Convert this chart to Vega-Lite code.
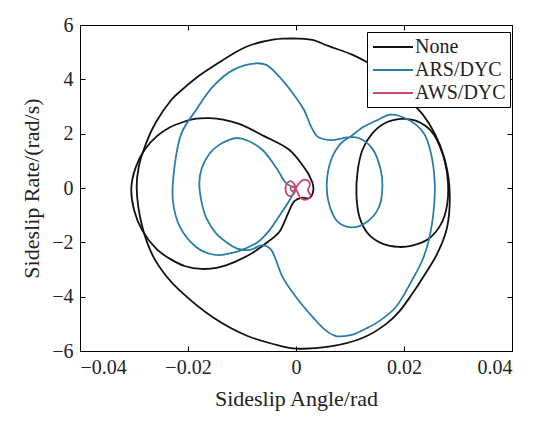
{
  "$schema": "https://vega.github.io/schema/vega-lite/v6.json",
  "autosize": {"type": "none"},
  "width": 432,
  "height": 326,
  "padding": {"left": 80, "top": 25, "right": 38, "bottom": 81},
  "background": "white",
  "config": {
    "view": {"stroke": "black", "strokeWidth": 1},
    "axis": {"grid": false, "domainColor": "black", "tickColor": "black", "labelColor": "#222", "titleColor": "#222", "labelFont": "Liberation Serif", "titleFont": "Liberation Serif", "labelFontSize": 20, "titleFontSize": 22, "titleFontWeight": "normal", "tickSize": -5, "domainWidth": 1, "tickWidth": 1},
    "legend": {"labelFont": "Liberation Serif", "labelFontSize": 20, "labelColor": "#222"}
  },
  "data": {"values": [
    {"s":"None","seg":1,"i":0,"x":0.0031,"y":0.17},
    {"s":"None","seg":1,"i":1,"x":0.0022,"y":0.55},
    {"s":"None","seg":1,"i":2,"x":0.0012,"y":0.84},
    {"s":"None","seg":1,"i":3,"x":-0.0012,"y":1.40},
    {"s":"None","seg":1,"i":4,"x":-0.0060,"y":1.92},
    {"s":"None","seg":1,"i":5,"x":-0.0105,"y":2.36},
    {"s":"None","seg":1,"i":6,"x":-0.0135,"y":2.52},
    {"s":"None","seg":1,"i":7,"x":-0.0160,"y":2.57},
    {"s":"None","seg":1,"i":8,"x":-0.0185,"y":2.55},
    {"s":"None","seg":1,"i":9,"x":-0.0210,"y":2.42},
    {"s":"None","seg":1,"i":10,"x":-0.0235,"y":2.22},
    {"s":"None","seg":1,"i":11,"x":-0.0257,"y":1.92},
    {"s":"None","seg":1,"i":12,"x":-0.0280,"y":1.42},
    {"s":"None","seg":1,"i":13,"x":-0.0297,"y":0.75},
    {"s":"None","seg":1,"i":14,"x":-0.0305,"y":0.0},
    {"s":"None","seg":1,"i":15,"x":-0.0300,"y":-0.80},
    {"s":"None","seg":1,"i":16,"x":-0.0285,"y":-1.55},
    {"s":"None","seg":1,"i":17,"x":-0.0258,"y":-2.25},
    {"s":"None","seg":1,"i":18,"x":-0.0234,"y":-2.60},
    {"s":"None","seg":1,"i":19,"x":-0.0205,"y":-2.88},
    {"s":"None","seg":1,"i":20,"x":-0.0175,"y":-2.98},
    {"s":"None","seg":1,"i":21,"x":-0.0145,"y":-2.93},
    {"s":"None","seg":1,"i":22,"x":-0.0111,"y":-2.70},
    {"s":"None","seg":1,"i":23,"x":-0.0080,"y":-2.38},
    {"s":"None","seg":1,"i":24,"x":-0.0052,"y":-1.98},
    {"s":"None","seg":1,"i":25,"x":-0.0031,"y":-1.62},
    {"s":"None","seg":1,"i":26,"x":-0.0015,"y":-0.95},
    {"s":"None","seg":1,"i":27,"x":-0.0003,"y":-0.48},
    {"s":"None","seg":1,"i":28,"x":0.0010,"y":-0.36},
    {"s":"None","seg":1,"i":29,"x":0.0025,"y":-0.37},
    {"s":"None","seg":1,"i":30,"x":0.0032,"y":-0.10},
    {"s":"None","seg":1,"i":31,"x":0.0031,"y":0.17},

    {"s":"None","seg":2,"i":0,"x":-0.0006,"y":5.51},
    {"s":"None","seg":2,"i":1,"x":0.0030,"y":5.45},
    {"s":"None","seg":2,"i":2,"x":0.0061,"y":5.22},
    {"s":"None","seg":2,"i":3,"x":0.0105,"y":4.90},
    {"s":"None","seg":2,"i":4,"x":0.0135,"y":4.59},
    {"s":"None","seg":2,"i":5,"x":0.0165,"y":4.20},
    {"s":"None","seg":2,"i":6,"x":0.0190,"y":3.72},
    {"s":"None","seg":2,"i":7,"x":0.0212,"y":3.20},
    {"s":"None","seg":2,"i":8,"x":0.0235,"y":2.70},
    {"s":"None","seg":2,"i":9,"x":0.0257,"y":2.00},
    {"s":"None","seg":2,"i":10,"x":0.0274,"y":1.15},
    {"s":"None","seg":2,"i":11,"x":0.0284,"y":0.05},
    {"s":"None","seg":2,"i":12,"x":0.0280,"y":-1.43},
    {"s":"None","seg":2,"i":13,"x":0.0262,"y":-2.40},
    {"s":"None","seg":2,"i":14,"x":0.0238,"y":-3.20},
    {"s":"None","seg":2,"i":15,"x":0.0215,"y":-3.90},
    {"s":"None","seg":2,"i":16,"x":0.0191,"y":-4.55},
    {"s":"None","seg":2,"i":17,"x":0.0166,"y":-5.02},
    {"s":"None","seg":2,"i":18,"x":0.0123,"y":-5.52},
    {"s":"None","seg":2,"i":19,"x":0.0061,"y":-5.84},
    {"s":"None","seg":2,"i":20,"x":0.0000,"y":-5.91},
    {"s":"None","seg":2,"i":21,"x":-0.0031,"y":-5.80},
    {"s":"None","seg":2,"i":22,"x":-0.0092,"y":-5.43},
    {"s":"None","seg":2,"i":23,"x":-0.0154,"y":-4.76},
    {"s":"None","seg":2,"i":24,"x":-0.0215,"y":-3.78},
    {"s":"None","seg":2,"i":25,"x":-0.0240,"y":-3.25},
    {"s":"None","seg":2,"i":26,"x":-0.0265,"y":-2.50},
    {"s":"None","seg":2,"i":27,"x":-0.0285,"y":-1.40},
    {"s":"None","seg":2,"i":28,"x":-0.0295,"y":0.0},
    {"s":"None","seg":2,"i":29,"x":-0.0291,"y":0.80},
    {"s":"None","seg":2,"i":30,"x":-0.0280,"y":1.52},
    {"s":"None","seg":2,"i":31,"x":-0.0260,"y":2.40},
    {"s":"None","seg":2,"i":32,"x":-0.0231,"y":3.24},
    {"s":"None","seg":2,"i":33,"x":-0.0215,"y":3.55},
    {"s":"None","seg":2,"i":34,"x":-0.0185,"y":4.05},
    {"s":"None","seg":2,"i":35,"x":-0.0154,"y":4.47},
    {"s":"None","seg":2,"i":36,"x":-0.0092,"y":5.20},
    {"s":"None","seg":2,"i":37,"x":-0.0040,"y":5.47},
    {"s":"None","seg":2,"i":38,"x":-0.0006,"y":5.51},

    {"s":"None","seg":3,"i":0,"x":0.0197,"y":2.55},
    {"s":"None","seg":3,"i":1,"x":0.0225,"y":2.45},
    {"s":"None","seg":3,"i":2,"x":0.0250,"y":2.10},
    {"s":"None","seg":3,"i":3,"x":0.0268,"y":1.45},
    {"s":"None","seg":3,"i":4,"x":0.0280,"y":0.50},
    {"s":"None","seg":3,"i":5,"x":0.0280,"y":-0.60},
    {"s":"None","seg":3,"i":6,"x":0.0268,"y":-1.35},
    {"s":"None","seg":3,"i":7,"x":0.0245,"y":-1.88},
    {"s":"None","seg":3,"i":8,"x":0.0215,"y":-2.12},
    {"s":"None","seg":3,"i":9,"x":0.0190,"y":-2.17},
    {"s":"None","seg":3,"i":10,"x":0.0160,"y":-2.05},
    {"s":"None","seg":3,"i":11,"x":0.0135,"y":-1.72},
    {"s":"None","seg":3,"i":12,"x":0.0118,"y":-1.10},
    {"s":"None","seg":3,"i":13,"x":0.0112,"y":-0.30},
    {"s":"None","seg":3,"i":14,"x":0.0114,"y":0.60},
    {"s":"None","seg":3,"i":15,"x":0.0123,"y":1.40},
    {"s":"None","seg":3,"i":16,"x":0.0141,"y":2.00},
    {"s":"None","seg":3,"i":17,"x":0.0166,"y":2.40},
    {"s":"None","seg":3,"i":18,"x":0.0197,"y":2.55},

    {"s":"ARS/DYC","seg":4,"i":0,"x":0.0000,"y":0.00},
    {"s":"ARS/DYC","seg":4,"i":1,"x":-0.0018,"y":0.17},
    {"s":"ARS/DYC","seg":4,"i":2,"x":-0.0035,"y":0.70},
    {"s":"ARS/DYC","seg":4,"i":3,"x":-0.0062,"y":1.40},
    {"s":"ARS/DYC","seg":4,"i":4,"x":-0.0090,"y":1.75},
    {"s":"ARS/DYC","seg":4,"i":5,"x":-0.0110,"y":1.84},
    {"s":"ARS/DYC","seg":4,"i":6,"x":-0.0125,"y":1.76},
    {"s":"ARS/DYC","seg":4,"i":7,"x":-0.0145,"y":1.55},
    {"s":"ARS/DYC","seg":4,"i":8,"x":-0.0160,"y":1.27},
    {"s":"ARS/DYC","seg":4,"i":9,"x":-0.0175,"y":0.70},
    {"s":"ARS/DYC","seg":4,"i":10,"x":-0.0179,"y":0.17},
    {"s":"ARS/DYC","seg":4,"i":11,"x":-0.0175,"y":-0.50},
    {"s":"ARS/DYC","seg":4,"i":12,"x":-0.0165,"y":-1.15},
    {"s":"ARS/DYC","seg":4,"i":13,"x":-0.0148,"y":-1.67},
    {"s":"ARS/DYC","seg":4,"i":14,"x":-0.0130,"y":-1.98},
    {"s":"ARS/DYC","seg":4,"i":15,"x":-0.0110,"y":-2.22},
    {"s":"ARS/DYC","seg":4,"i":16,"x":-0.0085,"y":-2.28},
    {"s":"ARS/DYC","seg":4,"i":17,"x":-0.0062,"y":-2.10},
    {"s":"ARS/DYC","seg":4,"i":18,"x":-0.0047,"y":-2.25},
    {"s":"ARS/DYC","seg":4,"i":19,"x":-0.0037,"y":-2.66},
    {"s":"ARS/DYC","seg":4,"i":20,"x":-0.0025,"y":-3.27},
    {"s":"ARS/DYC","seg":4,"i":21,"x":0.0000,"y":-4.01},
    {"s":"ARS/DYC","seg":4,"i":22,"x":0.0031,"y":-4.75},
    {"s":"ARS/DYC","seg":4,"i":23,"x":0.0055,"y":-5.24},
    {"s":"ARS/DYC","seg":4,"i":24,"x":0.0074,"y":-5.45},
    {"s":"ARS/DYC","seg":4,"i":25,"x":0.0090,"y":-5.45},
    {"s":"ARS/DYC","seg":4,"i":26,"x":0.0105,"y":-5.40},
    {"s":"ARS/DYC","seg":4,"i":27,"x":0.0130,"y":-5.17},
    {"s":"ARS/DYC","seg":4,"i":28,"x":0.0154,"y":-4.90},
    {"s":"ARS/DYC","seg":4,"i":29,"x":0.0185,"y":-4.38},
    {"s":"ARS/DYC","seg":4,"i":30,"x":0.0215,"y":-3.39},
    {"s":"ARS/DYC","seg":4,"i":31,"x":0.0234,"y":-2.66},
    {"s":"ARS/DYC","seg":4,"i":32,"x":0.0246,"y":-1.92},
    {"s":"ARS/DYC","seg":4,"i":33,"x":0.0255,"y":-0.81},
    {"s":"ARS/DYC","seg":4,"i":34,"x":0.0257,"y":0.17},
    {"s":"ARS/DYC","seg":4,"i":35,"x":0.0250,"y":1.27},
    {"s":"ARS/DYC","seg":4,"i":36,"x":0.0237,"y":2.01},
    {"s":"ARS/DYC","seg":4,"i":37,"x":0.0209,"y":2.50},
    {"s":"ARS/DYC","seg":4,"i":38,"x":0.0175,"y":2.70},
    {"s":"ARS/DYC","seg":4,"i":39,"x":0.0151,"y":2.50},
    {"s":"ARS/DYC","seg":4,"i":40,"x":0.0126,"y":2.26},
    {"s":"ARS/DYC","seg":4,"i":41,"x":0.0102,"y":1.91},
    {"s":"ARS/DYC","seg":4,"i":42,"x":0.0083,"y":1.64},
    {"s":"ARS/DYC","seg":4,"i":43,"x":0.0065,"y":1.03},
    {"s":"ARS/DYC","seg":4,"i":44,"x":0.0057,"y":0.17},
    {"s":"ARS/DYC","seg":4,"i":45,"x":0.0061,"y":-0.57},
    {"s":"ARS/DYC","seg":4,"i":46,"x":0.0077,"y":-1.24},
    {"s":"ARS/DYC","seg":4,"i":47,"x":0.0102,"y":-1.45},
    {"s":"ARS/DYC","seg":4,"i":48,"x":0.0132,"y":-1.24},
    {"s":"ARS/DYC","seg":4,"i":49,"x":0.0154,"y":-0.69},
    {"s":"ARS/DYC","seg":4,"i":50,"x":0.0160,"y":0.05},
    {"s":"ARS/DYC","seg":4,"i":51,"x":0.0157,"y":0.66},
    {"s":"ARS/DYC","seg":4,"i":52,"x":0.0141,"y":1.46},
    {"s":"ARS/DYC","seg":4,"i":53,"x":0.0115,"y":1.85},
    {"s":"ARS/DYC","seg":4,"i":54,"x":0.0095,"y":1.86},
    {"s":"ARS/DYC","seg":4,"i":55,"x":0.0077,"y":1.79},
    {"s":"ARS/DYC","seg":4,"i":56,"x":0.0058,"y":1.77},
    {"s":"ARS/DYC","seg":4,"i":57,"x":0.0040,"y":1.89},
    {"s":"ARS/DYC","seg":4,"i":58,"x":0.0028,"y":2.26},
    {"s":"ARS/DYC","seg":4,"i":59,"x":0.0015,"y":2.87},
    {"s":"ARS/DYC","seg":4,"i":60,"x":-0.0006,"y":3.49},
    {"s":"ARS/DYC","seg":4,"i":61,"x":-0.0031,"y":4.10},
    {"s":"ARS/DYC","seg":4,"i":62,"x":-0.0055,"y":4.53},
    {"s":"ARS/DYC","seg":4,"i":63,"x":-0.0074,"y":4.59},
    {"s":"ARS/DYC","seg":4,"i":64,"x":-0.0117,"y":4.34},
    {"s":"ARS/DYC","seg":4,"i":65,"x":-0.0154,"y":3.73},
    {"s":"ARS/DYC","seg":4,"i":66,"x":-0.0185,"y":2.87},
    {"s":"ARS/DYC","seg":4,"i":67,"x":-0.0212,"y":2.02},
    {"s":"ARS/DYC","seg":4,"i":68,"x":-0.0225,"y":0.78},
    {"s":"ARS/DYC","seg":4,"i":69,"x":-0.0228,"y":-0.45},
    {"s":"ARS/DYC","seg":4,"i":70,"x":-0.0215,"y":-1.43},
    {"s":"ARS/DYC","seg":4,"i":71,"x":-0.0185,"y":-2.17},
    {"s":"ARS/DYC","seg":4,"i":72,"x":-0.0160,"y":-2.42},
    {"s":"ARS/DYC","seg":4,"i":73,"x":-0.0142,"y":-2.47},
    {"s":"ARS/DYC","seg":4,"i":74,"x":-0.0120,"y":-2.40},
    {"s":"ARS/DYC","seg":4,"i":75,"x":-0.0100,"y":-2.28},
    {"s":"ARS/DYC","seg":4,"i":76,"x":-0.0070,"y":-1.98},
    {"s":"ARS/DYC","seg":4,"i":77,"x":-0.0049,"y":-1.55},
    {"s":"ARS/DYC","seg":4,"i":78,"x":-0.0030,"y":-1.00},
    {"s":"ARS/DYC","seg":4,"i":79,"x":-0.0012,"y":-0.45},
    {"s":"ARS/DYC","seg":4,"i":80,"x":0.0000,"y":0.00},

    {"s":"AWS/DYC","seg":5,"i":0,"x":0.0000,"y":0.00},
    {"s":"AWS/DYC","seg":5,"i":1,"x":-0.0005,"y":0.20},
    {"s":"AWS/DYC","seg":5,"i":2,"x":-0.0011,"y":0.25},
    {"s":"AWS/DYC","seg":5,"i":3,"x":-0.0018,"y":0.12},
    {"s":"AWS/DYC","seg":5,"i":4,"x":-0.0019,"y":-0.12},
    {"s":"AWS/DYC","seg":5,"i":5,"x":-0.0012,"y":-0.30},
    {"s":"AWS/DYC","seg":5,"i":6,"x":-0.0004,"y":-0.22},
    {"s":"AWS/DYC","seg":5,"i":7,"x":0.0000,"y":0.00},
    {"s":"AWS/DYC","seg":5,"i":8,"x":0.0005,"y":0.15},
    {"s":"AWS/DYC","seg":5,"i":9,"x":0.0010,"y":0.26},
    {"s":"AWS/DYC","seg":5,"i":10,"x":0.0019,"y":0.30},
    {"s":"AWS/DYC","seg":5,"i":11,"x":0.0026,"y":0.14},
    {"s":"AWS/DYC","seg":5,"i":12,"x":0.0022,"y":-0.08},
    {"s":"AWS/DYC","seg":5,"i":13,"x":0.0027,"y":-0.28},
    {"s":"AWS/DYC","seg":5,"i":14,"x":0.0019,"y":-0.43},
    {"s":"AWS/DYC","seg":5,"i":15,"x":0.0008,"y":-0.36},
    {"s":"AWS/DYC","seg":5,"i":16,"x":0.0002,"y":-0.12},
    {"s":"AWS/DYC","seg":5,"i":17,"x":-0.0005,"y":0.06},
    {"s":"AWS/DYC","seg":5,"i":18,"x":-0.0010,"y":0.00},
    {"s":"AWS/DYC","seg":5,"i":19,"x":-0.0007,"y":-0.12},
    {"s":"AWS/DYC","seg":5,"i":20,"x":0.0000,"y":0.00}
  ]},
  "layer": [
    {
      "mark": {"type": "line", "strokeWidth": 1.8, "strokeJoin": "round", "interpolate": "catmull-rom"},
      "encoding": {
        "x": {"field": "x", "type": "quantitative", "scale": {"domain": [-0.04, 0.04], "nice": false, "zero": false},
              "axis": {"title": "Sideslip Angle/rad", "values": [-0.04, -0.02, 0, 0.02, 0.04], "labelExpr": "datum.value == 0 ? '0' : format(datum.value, '.2f')", "labelPadding": 11, "titlePadding": 11}},
        "y": {"field": "y", "type": "quantitative", "scale": {"domain": [-6, 6], "nice": false},
              "axis": {"title": "Sideslip Rate/(rad/s)", "values": [-6, -4, -2, 0, 2, 4, 6], "labelPadding": 12, "titlePadding": 8}},
        "color": {"field": "s", "type": "nominal", "scale": {"domain": ["None", "ARS/DYC", "AWS/DYC"], "range": ["#111111", "#2a7dab", "#c9496c"]},
                  "legend": {"title": null, "orient": "none", "legendX": 287, "legendY": 7, "symbolType": "M-2,0H2", "symbolSize": 400, "symbolStrokeWidth": 2, "symbolFillColor": "transparent", "fillColor": "white", "strokeColor": "black", "padding": 4, "rowPadding": 2, "symbolOffset": 11, "labelOffset": 11}},
        "detail": {"field": "seg", "type": "nominal"},
        "order": {"field": "i", "type": "quantitative"}
      }
    },
    {
      "mark": {"type": "point", "opacity": 0},
      "encoding": {
        "x": {"field": "x", "type": "quantitative", "axis": {"orient": "top", "values": [-0.04, -0.02, 0, 0.02, 0.04], "labels": false, "title": null, "domain": false}},
        "y": {"field": "y", "type": "quantitative", "axis": {"orient": "right", "values": [-6, -4, -2, 0, 2, 4, 6], "labels": false, "title": null, "domain": false}}
      }
    }
  ],
  "resolve": {"axis": {"x": "independent", "y": "independent"}}
}
